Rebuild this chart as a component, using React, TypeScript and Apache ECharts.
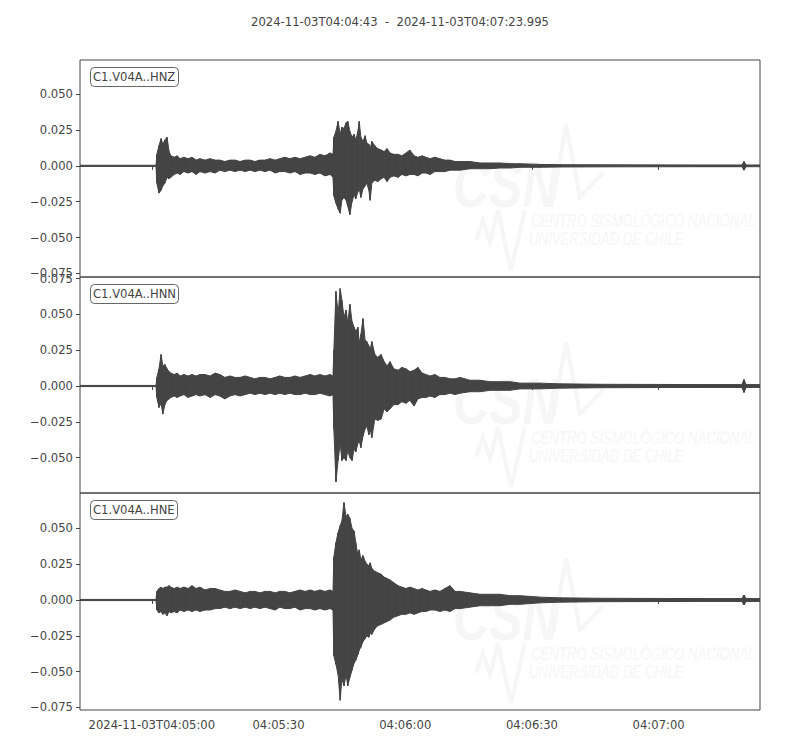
import React, { useEffect, useRef } from "react";
import * as echarts from "echarts";

// seconds after 2024-11-03T04:04:43
const TIME = [
  0, 18.0, 18.2, 18.7, 19.2, 19.6, 20.1, 20.6, 21.1, 21.5,
  22.3, 23.0, 23.7, 24.6, 25.6, 26.5, 27.5, 28.4, 29.6, 30.8,
  32.0, 33.1, 34.3, 35.5, 36.7, 37.9, 39.1, 40.3, 41.4, 42.6,
  43.8, 45.0, 46.2, 47.3, 48.5, 49.7, 50.9, 52.1, 53.3, 54.5,
  55.6, 56.8, 58.0, 59.2, 59.9, 60.1, 60.6, 61.1, 61.6, 62.0,
  62.5, 63.0, 63.4, 63.9, 64.4, 64.9, 65.3, 65.8, 66.1, 66.5,
  67.0, 67.5, 67.9, 68.4, 68.7, 69.1, 69.8, 70.5, 71.3, 72.0,
  72.7, 73.4, 74.3, 75.3, 76.2, 77.2, 78.1, 79.1, 80.0, 81.0,
  81.9, 82.9, 84.0, 85.2, 86.4, 87.6, 88.8, 90.0, 92.3, 94.7,
  97.1, 99.4, 101.8, 104.2, 108.9, 113.6, 123.1, 146.8, 156.7, 157.2, 157.7, 161.0,
];

// upper / lower envelope of each trace
const HNZ_HI = [
  0.0004, 0.0004, 0.008, 0.014, 0.019, 0.015, 0.018, 0.020, 0.010, 0.007,
  0.006, 0.007, 0.005, 0.006, 0.005, 0.006, 0.004, 0.005, 0.004, 0.005,
  0.004, 0.004, 0.003, 0.004, 0.004, 0.003, 0.004, 0.004, 0.003, 0.004,
  0.004, 0.005, 0.004, 0.005, 0.006, 0.005, 0.006, 0.005, 0.006, 0.007,
  0.006, 0.008, 0.007, 0.009, 0.008, 0.020, 0.024, 0.031, 0.022, 0.027,
  0.026, 0.030, 0.031, 0.024, 0.020, 0.022, 0.018, 0.024, 0.031, 0.020,
  0.017, 0.021, 0.016, 0.015, 0.012, 0.017, 0.014, 0.012, 0.011, 0.010,
  0.012, 0.009, 0.008, 0.008, 0.007, 0.009, 0.011, 0.007, 0.006, 0.007,
  0.006, 0.005, 0.006, 0.005, 0.004, 0.004, 0.003, 0.003, 0.003, 0.002,
  0.002, 0.002, 0.0015, 0.0015, 0.001, 0.0008, 0.0007, 0.0006, 0.0006, 0.003, 0.0006, 0.0006,
];
const HNZ_LO = [
  -0.0004, -0.0004, -0.012, -0.019, -0.017, -0.014, -0.012, -0.008, -0.009, -0.008,
  -0.006, -0.005, -0.006, -0.004, -0.005, -0.004, -0.006, -0.004, -0.005, -0.004,
  -0.005, -0.003, -0.004, -0.003, -0.004, -0.003, -0.004, -0.003, -0.004, -0.003,
  -0.004, -0.003, -0.005, -0.004, -0.004, -0.005, -0.004, -0.006, -0.005, -0.005,
  -0.006, -0.005, -0.007, -0.006, -0.008, -0.021, -0.026, -0.030, -0.033, -0.024,
  -0.022, -0.024, -0.028, -0.034, -0.025, -0.020, -0.023, -0.018, -0.016, -0.022,
  -0.016, -0.014, -0.012, -0.017, -0.024, -0.012, -0.010, -0.011, -0.009, -0.008,
  -0.011, -0.008, -0.007, -0.008, -0.006, -0.007, -0.006, -0.006, -0.007, -0.005,
  -0.005, -0.006, -0.004, -0.004, -0.004, -0.003, -0.003, -0.003, -0.002, -0.002,
  -0.002, -0.0015, -0.0015, -0.001, -0.001, -0.0008, -0.0007, -0.0006, -0.0006, -0.003, -0.0006, -0.0006,
];

const HNN_HI = [
  0.0004, 0.0004, 0.006, 0.012, 0.022, 0.014, 0.015, 0.012, 0.010, 0.009,
  0.008, 0.009, 0.007, 0.008, 0.007, 0.008, 0.007, 0.008, 0.008, 0.007,
  0.009, 0.008, 0.006, 0.007, 0.006, 0.006, 0.007, 0.006, 0.005, 0.006,
  0.006, 0.005, 0.006, 0.007, 0.006, 0.006, 0.007, 0.006, 0.007, 0.008,
  0.007, 0.008, 0.007, 0.008, 0.007, 0.025, 0.066, 0.050, 0.068, 0.060,
  0.048, 0.053, 0.044, 0.057, 0.045, 0.041, 0.038, 0.041, 0.030, 0.036,
  0.047, 0.032, 0.031, 0.028, 0.025, 0.031, 0.022, 0.020, 0.022, 0.017,
  0.014, 0.017, 0.012, 0.011, 0.013, 0.012, 0.010, 0.011, 0.013, 0.009,
  0.008, 0.007, 0.008, 0.006, 0.006, 0.005, 0.005, 0.006, 0.004, 0.004,
  0.003, 0.003, 0.003, 0.002, 0.002, 0.0015, 0.0012, 0.001, 0.001, 0.0045, 0.001, 0.001,
];
const HNN_LO = [
  -0.0004, -0.0004, -0.008, -0.015, -0.012, -0.0196, -0.013, -0.010, -0.009, -0.008,
  -0.007, -0.008, -0.007, -0.006, -0.008, -0.007, -0.006, -0.007, -0.006, -0.008,
  -0.006, -0.007, -0.009, -0.007, -0.006, -0.007, -0.006, -0.005, -0.006, -0.005,
  -0.006, -0.005, -0.006, -0.005, -0.006, -0.005, -0.006, -0.006, -0.005, -0.006,
  -0.006, -0.005, -0.006, -0.007, -0.006, -0.030, -0.067, -0.052, -0.040, -0.052,
  -0.050, -0.052, -0.045, -0.050, -0.052, -0.044, -0.046, -0.040, -0.038, -0.043,
  -0.035, -0.030, -0.028, -0.034, -0.030, -0.036, -0.023, -0.024, -0.023, -0.016,
  -0.018, -0.016, -0.013, -0.013, -0.011, -0.012, -0.010, -0.014, -0.009, -0.008,
  -0.008, -0.007, -0.008, -0.006, -0.006, -0.005, -0.006, -0.005, -0.004, -0.004,
  -0.003, -0.003, -0.003, -0.002, -0.002, -0.0015, -0.0012, -0.001, -0.001, -0.0045, -0.001, -0.001,
];

const HNE_HI = [
  0.0004, 0.0004, 0.006, 0.008, 0.009, 0.008, 0.009, 0.009, 0.010, 0.009,
  0.008, 0.009, 0.008, 0.009, 0.008, 0.010, 0.008, 0.009, 0.007, 0.008,
  0.008, 0.007, 0.006, 0.006, 0.007, 0.006, 0.005, 0.006, 0.006, 0.005,
  0.006, 0.006, 0.005, 0.006, 0.006, 0.005, 0.006, 0.007, 0.006, 0.007,
  0.006, 0.007, 0.006, 0.007, 0.006, 0.030, 0.040, 0.047, 0.052, 0.055,
  0.068, 0.058, 0.060, 0.057, 0.050, 0.048, 0.040, 0.031, 0.035, 0.028,
  0.031, 0.027, 0.025, 0.024, 0.026, 0.022, 0.020, 0.019, 0.018, 0.016,
  0.015, 0.014, 0.012, 0.010, 0.009, 0.008, 0.009, 0.008, 0.007, 0.008,
  0.007, 0.006, 0.007, 0.006, 0.008, 0.010, 0.006, 0.006, 0.005, 0.004,
  0.004, 0.004, 0.003, 0.003, 0.002, 0.0015, 0.0012, 0.001, 0.001, 0.0035, 0.001, 0.001,
];
const HNE_LO = [
  -0.0004, -0.0004, -0.007, -0.009, -0.008, -0.010, -0.009, -0.011, -0.008, -0.009,
  -0.008, -0.009, -0.007, -0.008, -0.007, -0.008, -0.007, -0.008, -0.007, -0.007,
  -0.006, -0.006, -0.005, -0.006, -0.005, -0.006, -0.005, -0.006, -0.005, -0.006,
  -0.005, -0.006, -0.007, -0.005, -0.006, -0.006, -0.005, -0.007, -0.006, -0.006,
  -0.007, -0.006, -0.007, -0.006, -0.007, -0.039, -0.045, -0.052, -0.070, -0.055,
  -0.060, -0.052, -0.060, -0.054, -0.049, -0.044, -0.042, -0.038, -0.035, -0.033,
  -0.029, -0.027, -0.025, -0.026, -0.023, -0.024, -0.020, -0.018, -0.017, -0.016,
  -0.015, -0.014, -0.012, -0.011, -0.010, -0.010, -0.009, -0.010, -0.009, -0.008,
  -0.008, -0.007, -0.007, -0.008, -0.007, -0.008, -0.006, -0.006, -0.005, -0.004,
  -0.004, -0.004, -0.003, -0.003, -0.002, -0.0015, -0.0012, -0.001, -0.001, -0.0035, -0.001, -0.001,
];

const CHANNELS = ["C1.V04A..HNZ", "C1.V04A..HNN", "C1.V04A..HNE"];
const Y_MIN = [-0.0775, -0.0747, -0.0768];
const Y_MAX = [0.0738, 0.0761, 0.0747];
const Y_TICKS = [-0.075, -0.05, -0.025, 0, 0.025, 0.05, 0.075];
const X_TICKS = [17, 47, 77, 107, 137];
const X_TICK_LABELS = ["2024-11-03T04:05:00", "04:05:30", "04:06:00", "04:06:30", "04:07:00"];
const TITLE = "2024-11-03T04:04:43  -  2024-11-03T04:07:23.995";
const X_MAX = 160.995;

const INK = "#444444";
const FONT = "DejaVu Sans";
const PANEL_TOP = [60, 277, 493];
const PANEL_H = [217, 216, 217];

const envelopes = [
  [HNZ_HI, HNZ_LO],
  [HNN_HI, HNN_LO],
  [HNE_HI, HNE_LO],
];

// faint CSN watermark, placed relative to a panel's top
const watermark = (top: number) => {
  const faint = "#f6f6f6";
  const wmFont = "'Liberation Sans', Arial, sans-serif";
  return [
    {
      type: "polyline",
      silent: true,
      z: 0,
      shape: { points: [[553, top + 140], [566, top + 65], [580, top + 137], [603, top + 113]] },
      style: { stroke: faint, lineWidth: 4, fill: null },
    },
    {
      type: "polyline",
      silent: true,
      z: 0,
      shape: {
        points: [[476, top + 180], [483, top + 160], [490, top + 182], [498, top + 150], [511, top + 210], [525, top + 150]],
      },
      style: { stroke: faint, lineWidth: 4, fill: null },
    },
    {
      type: "text",
      silent: true,
      z: 0,
      x: 453,
      y: top + 92,
      scaleY: 1.3,
      style: {
        text: "CSN",
        fill: faint,
        fontSize: 50,
        fontStyle: "italic",
        fontWeight: "bold",
        fontFamily: wmFont,
        verticalAlign: "top",
      },
    },
    {
      type: "text",
      silent: true,
      z: 0,
      x: 531,
      y: top + 152,
      scaleY: 1.35,
      style: {
        text: "CENTRO SISMOLÓGICO NACIONAL",
        fill: faint,
        fontSize: 13.2,
        fontStyle: "italic",
        fontFamily: wmFont,
        verticalAlign: "top",
      },
    },
    {
      type: "text",
      silent: true,
      z: 0,
      x: 529,
      y: top + 170,
      scaleY: 1.35,
      style: {
        text: "UNIVERSIDAD DE CHILE",
        fill: faint,
        fontSize: 13.2,
        fontStyle: "italic",
        fontFamily: wmFont,
        verticalAlign: "top",
      },
    },
  ];
};

const App = () => {
  const chartRef = useRef(null);

  useEffect(() => {
    if (!chartRef.current) return;
    const chart = echarts.init(chartRef.current, null, { renderer: "svg" });

    const grids = PANEL_TOP.map((top, i) => ({
      left: 80,
      right: 40,
      top,
      height: PANEL_H[i],
      show: true,
      borderColor: INK,
      borderWidth: 1,
      backgroundColor: "transparent",
    }));

    const xAxes = PANEL_TOP.map((_, i) => ({
      type: "value",
      gridIndex: i,
      min: 0,
      max: X_MAX,
      axisLine: { show: false },
      splitLine: { show: false },
      axisTick: {
        show: true,
        length: 4,
        customValues: X_TICKS,
        lineStyle: { color: INK },
      },
      axisLabel: {
        show: i === 2,
        customValues: X_TICKS,
        margin: 9,
        color: INK,
        fontSize: 11.6,
        fontFamily: FONT,
        formatter: (v: number) => {
          const k = X_TICKS.findIndex((t) => Math.abs(t - v) < 1e-6);
          return k >= 0 ? X_TICK_LABELS[k] : "";
        },
      },
    }));

    const yAxes = PANEL_TOP.map((_, i) => {
      const ticks = Y_TICKS.filter((v) => v >= Y_MIN[i] && v <= Y_MAX[i]);
      return {
        type: "value",
        gridIndex: i,
        min: Y_MIN[i],
        max: Y_MAX[i],
        axisLine: { show: false },
        splitLine: { show: false },
        axisTick: {
          show: true,
          length: 4,
          customValues: ticks,
          lineStyle: { color: INK },
        },
        axisLabel: {
          customValues: ticks,
          margin: 7,
          color: INK,
          fontSize: 11.6,
          fontFamily: FONT,
          formatter: (v: number) => v.toFixed(3).replace("-", "\u2212"),
        },
      };
    });

    const series = envelopes.map(([hi, lo], i) => ({
      type: "custom",
      name: CHANNELS[i],
      xAxisIndex: i,
      yAxisIndex: i,
      clip: true,
      z: 2,
      data: TIME.map((t, k) => [t, hi[k], lo[k]]),
      encode: { x: 0, y: [1, 2] },
      renderItem: (params: any, api: any) => {
        const k = params.dataIndex;
        if (k >= TIME.length - 1) return { type: "group", children: [] };
        const a = api.coord([TIME[k], hi[k]]);
        const b = api.coord([TIME[k + 1], hi[k + 1]]);
        const c = api.coord([TIME[k + 1], lo[k + 1]]);
        const d = api.coord([TIME[k], lo[k]]);
        return {
          type: "polygon",
          shape: { points: [a, b, c, d] },
          style: { fill: INK, stroke: INK, lineWidth: 1 },
        };
      },
    }));

    const titles = [
      {
        text: TITLE,
        left: "center",
        top: 11,
        textStyle: { color: INK, fontSize: 11.6, fontWeight: "normal", fontFamily: FONT },
      },
      ...CHANNELS.map((name, i) => ({
        text: name,
        left: 90,
        top: PANEL_TOP[i] + 7,
        padding: [3, 3, 3, 3],
        borderColor: "#666666",
        borderWidth: 1,
        borderRadius: 4,
        backgroundColor: "#ffffff",
        z: 10,
        textStyle: { color: INK, fontSize: 11.6, fontWeight: "normal", fontFamily: FONT, lineHeight: 14 },
      })),
    ];

    chart.setOption({
      animation: false,
      backgroundColor: "#ffffff",
      title: titles,
      grid: grids,
      xAxis: xAxes,
      yAxis: yAxes,
      series,
      graphic: PANEL_TOP.flatMap((top) => watermark(top)),
    });

    return () => {
      chart.dispose();
    };
  }, []);

  return (
    <div
      ref={chartRef}
      style={{ position: "fixed", left: 0, top: 0, width: "800px", height: "750px", background: "#fff" }}
    />
  );
};

export default App;
